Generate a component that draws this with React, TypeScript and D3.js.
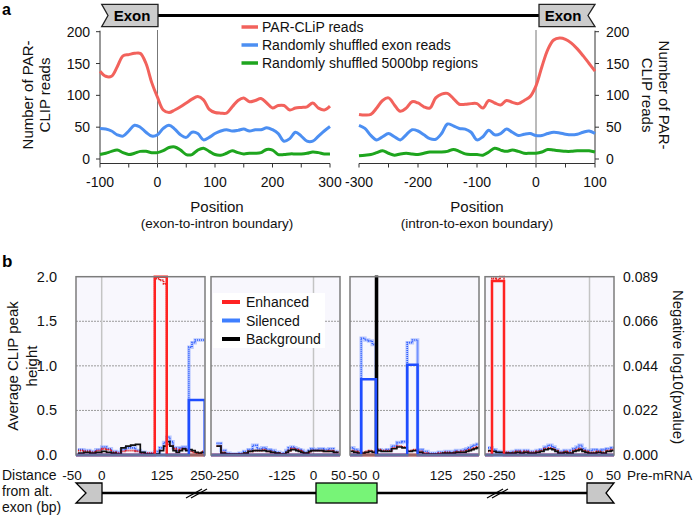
import React from "react";
import * as d3 from "d3";

const FONT = "'Liberation Sans', Arial, Helvetica, sans-serif";

// ---------- Panel a data ----------
const exonIntronPos = d3.range(-100, 301, 10);
const exonIntronPar = [138, 130, 130, 145, 162, 164, 166, 166, 150, 120, 97, 77, 73, 77, 82, 88, 94, 98, 93, 78, 73, 72, 72, 82, 92, 96, 90, 92, 95, 88, 80, 84, 84, 77, 80, 81, 82, 88, 80, 77, 83];
const exonIntronShuffledExon = [48, 47, 44, 38, 36, 44, 53, 50, 42, 36, 38, 48, 53, 47, 38, 34, 42, 40, 30, 34, 40, 44, 46, 44, 45, 47, 44, 46, 46, 49, 46, 40, 28, 32, 42, 36, 28, 28, 36, 44, 51];
const exonIntronShuffled5000 = [7, 9, 12, 14, 10, 7, 9, 12, 12, 10, 10, 13, 18, 19, 14, 7, 7, 14, 17, 12, 7, 6, 9, 13, 10, 8, 9, 9, 10, 15, 14, 7, 7, 8, 8, 8, 9, 11, 10, 8, 8];

const intronExonPos = d3.range(-300, 101, 10);
const intronExonPar = [70, 69, 70, 80, 92, 96, 85, 75, 80, 90, 88, 82, 80, 96, 102, 103, 95, 86, 86, 87, 87, 80, 92, 88, 85, 92, 89, 87, 92, 98, 115, 145, 172, 187, 190, 188, 182, 173, 162, 150, 138];
const intronExonShuffledExon = [53, 48, 37, 30, 35, 40, 35, 30, 38, 46, 44, 38, 32, 31, 40, 55, 52, 48, 47, 42, 30, 35, 45, 38, 40, 47, 42, 37, 39, 40, 37, 37, 40, 42, 41, 39, 38, 39, 42, 44, 40];
const intronExonShuffled5000 = [5, 6, 7, 10, 13, 9, 6, 8, 9, 8, 7, 9, 11, 11, 11, 12, 15, 12, 8, 7, 7, 6, 11, 17, 14, 12, 14, 12, 9, 9, 9, 11, 15, 14, 13, 12, 12, 13, 13, 13, 11];

const leftPosTicks = [-100, 0, 100, 200, 300];
const rightPosTicks = [-300, -200, -100, 0, 100];
const readTicks = [0, 50, 100, 150, 200];
const legendA = ["PAR-CLiP reads", "Randomly shuffled exon reads", "Randomly shuffled 5000bp regions"];
const colorsA = ["#f2625c", "#4c8ff2", "#1ea51e"];

// ---------- Panel b data ----------
const heightTicks = [0, 0.5, 1.0, 1.5, 2.0];
const pvalueTickLabels = ["0.000", "0.022", "0.044", "0.066", "0.089"];
const legendB = ["Enhanced", "Silenced", "Background"];
const colorsB = ["#ff2222", "#3f7fff", "#000000"];

// panel 1 (downstream of upstream exon)
const bins1 = d3.range(-40, 260, 10);
const enh1 = [0.05, 0.04, 0.03, 0.05, 0.07, 0.06, 0.03, 0.02, 0.04, 0.05, 0.05, 0.04, 0.02, 0.02, 0.02, 1.98, 1.96, 1.92, 0.12, 0.1, 0.07, 0.05, 0.06, 0.07, 0.06, 0.04, 0.03, 0.02, 0.02, 0.04];
const sil1 = [0.06, 0.05, 0.04, 0.06, 0.09, 0.07, 0.04, 0.03, 0.06, 0.08, 0.08, 0.05, 0.03, 0.02, 0.02, 0.04, 0.08, 0.14, 0.2, 0.15, 0.08, 0.05, 0.08, 0.09, 0.07, 1.21, 1.26, 1.29, 1.29, 1.29];
const bg1 = [0.02, 0.03, 0.02, 0.03, 0.04, 0.03, 0.02, 0.01, 0.08, 0.1, 0.11, 0.12, 0.03, 0.01, 0.01, 0.01, 0.05, 0.1, 0.15, 0.1, 0.05, 0.03, 0.05, 0.07, 0.05, 0.06, 0.05, 0.03, 0.02, 0.03];
const enhP1: [number, number, number][] = [[110, 140, 0.089]];
const silP1: [number, number, number][] = [[210, 260, 0.0275]];
const bgP1: [number, number, number][] = [];

// panel 2 (upstream of alt. exon)
const bins2 = d3.range(-270, 50, 10);
const enh2 = [0.1, 0.03, 0.01, 0, 0, 0.01, 0.02, 0.04, 0.05, 0.05, 0.06, 0.04, 0.03, 0.02, 0.01, 0.01, 0.03, 0.05, 0.07, 0.07, 0.06, 0.05, 0.04, 0.02, 0.02, 0.03, 0.05, 0.05, 0.05, 0.04, 0.05, 0.03];
const sil2 = [0.13, 0.05, 0.02, 0.01, 0.01, 0.02, 0.04, 0.06, 0.11, 0.07, 0.08, 0.06, 0.05, 0.03, 0.01, 0.02, 0.05, 0.08, 0.09, 0.08, 0.07, 0.06, 0.05, 0.03, 0.02, 0.05, 0.07, 0.06, 0.07, 0.06, 0.07, 0.04];
const bg2 = [0.1, 0.02, 0.01, 0.01, 0.01, 0.01, 0.02, 0.04, 0.05, 0.05, 0.05, 0.04, 0.03, 0.02, 0.01, 0.01, 0.03, 0.05, 0.06, 0.06, 0.05, 0.04, 0.03, 0.02, 0.02, 0.04, 0.05, 0.05, 0.05, 0.04, 0.04, 0.03];
const enhP2: [number, number, number][] = [];
const silP2: [number, number, number][] = [];
const bgP2: [number, number, number][] = [];

// panel 3 (downstream of alt. exon)
const bins3 = d3.range(-70, 270, 10);
const enh3 = [0.05, 0.04, 0.03, 0.03, 0.04, 0.05, 0.04, 0.06, 0.05, 0.05, 0.08, 0.1, 0.09, 0.05, 0.06, 0.04, 0.02, 0.01, 0.01, 0.02, 0.02, 0.03, 0.03, 0.02, 0.03, 0.04, 0.03, 0.04, 0.04, 0.05, 0.06, 0.07, 0.08, 0.09];
const sil3 = [0.08, 0.06, 0.05, 1.31, 1.29, 1.28, 1.24, 0.06, 0.05, 0.06, 0.1, 0.14, 0.15, 1.26, 1.29, 0.06, 0.04, 0.02, 0.02, 0.03, 0.03, 0.04, 0.04, 0.03, 0.04, 0.05, 0.04, 0.05, 0.06, 0.07, 0.08, 0.1, 0.11, 0.12];
const bg3 = [0.04, 0.03, 0.02, 0.02, 0.03, 0.04, 0.03, 0.05, 0.04, 0.04, 0.07, 0.09, 0.08, 0.04, 0.05, 0.03, 0.01, 0.01, 0.01, 0.01, 0.02, 0.02, 0.02, 0.02, 0.02, 0.03, 0.03, 0.03, 0.03, 0.04, 0.05, 0.06, 0.07, 0.08];
const enhP3: [number, number, number][] = [];
const silP3: [number, number, number][] = [[-40, 0, 0.0378], [60, 80, 0.045]];
const bgP3: [number, number, number][] = [[0, 2, 0.089]];

// panel 4 (upstream of downstream exon)
const bins4 = d3.range(-285, 55, 10);
const enh4 = [0.04, 1.98, 1.97, 2.0, 0.03, 0.02, 0.03, 0.04, 0.03, 0.04, 0.03, 0.03, 0.04, 0.05, 0.07, 0.08, 0.07, 0.05, 0.03, 0.03, 0.04, 0.03, 0.03, 0.05, 0.06, 0.07, 0.05, 0.04, 0.03, 0.03, 0.04, 0.03, 0.05, 0.06];
const sil4 = [0.08, 0.06, 0.04, 0.03, 0.03, 0.03, 0.04, 0.05, 0.04, 0.05, 0.04, 0.04, 0.05, 0.06, 0.09, 0.11, 0.09, 0.06, 0.04, 0.04, 0.05, 0.04, 0.05, 0.07, 0.09, 0.11, 0.07, 0.05, 0.05, 0.06, 0.05, 0.06, 0.07, 0.08];
const bg4 = [0.05, 0.04, 0.03, 0.03, 0.02, 0.02, 0.02, 0.03, 0.02, 0.03, 0.02, 0.02, 0.03, 0.04, 0.06, 0.07, 0.06, 0.04, 0.02, 0.02, 0.03, 0.02, 0.02, 0.04, 0.05, 0.06, 0.04, 0.03, 0.02, 0.02, 0.03, 0.02, 0.04, 0.05];
const enhP4: [number, number, number][] = [[-275, -245, 0.0868]];
const silP4: [number, number, number][] = [];
const bgP4: [number, number, number][] = [];

const ticks13 = [-50, 0, 125, 250];
const ticks24 = [-250, -125, 0, 50];

type Seg = [number, number, number];
interface PanelDef {
  left: number;
  ticks: number[];
  tickPx: number[];
  bins: number[];
  enh: number[];
  sil: number[];
  bg: number[];
  enhP: Seg[];
  silP: Seg[];
  bgP: Seg[];
}

const panelsB: PanelDef[] = [
  { left: 76, ticks: ticks13, tickPx: [72, 101.7, 162, 201.5], bins: bins1, enh: enh1, sil: sil1, bg: bg1, enhP: enhP1, silP: silP1, bgP: bgP1 },
  { left: 211, ticks: ticks24, tickPx: [225.5, 282, 313.5, 338.5], bins: bins2, enh: enh2, sil: sil2, bg: bg2, enhP: enhP2, silP: silP2, bgP: bgP2 },
  { left: 350, ticks: ticks13, tickPx: [357.5, 376, 441, 474], bins: bins3, enh: enh3, sil: sil3, bg: bg3, enhP: enhP3, silP: silP3, bgP: bgP3 },
  { left: 485, ticks: ticks24, tickPx: [502, 552, 589.5, 613.5], bins: bins4, enh: enh4, sil: sil4, bg: bg4, enhP: enhP4, silP: silP4, bgP: bgP4 },
];

export default function App() {
  // Panel a scales
  const xL = d3.scaleLinear().domain([-100, 300]).range([100, 330]);
  const xR = d3.scaleLinear().domain([-300, 100]).range([359, 595]);
  const yA = d3.scaleLinear().domain([0, 200]).range([159, 31.7]);
  const axisY = 163.5;

  const mkLine = (x: d3.ScaleLinear<number, number>) =>
    d3
      .line<[number, number]>()
      .x((d) => x(d[0]))
      .y((d) => yA(d[1]))
      .curve(d3.curveCatmullRom.alpha(0.5));

  const leftSeries = [exonIntronPar, exonIntronShuffledExon, exonIntronShuffled5000];
  const rightSeries = [intronExonPar, intronExonShuffledExon, intronExonShuffled5000];

  // Panel b scales
  const yB = d3.scaleLinear().domain([0, 2]).range([455, 276.7]);
  const yP = d3.scaleLinear().domain([0, 0.089]).range([455, 276.7]);
  const panelW = 129;

  const stepLine = (x: d3.ScaleLinear<number, number>, bins: number[], vals: number[]) => {
    const pts: [number, number][] = bins.map((b, i) => [b, vals[i]]);
    pts.push([bins[bins.length - 1] + 10, vals[vals.length - 1]]);
    return d3
      .line<[number, number]>()
      .x((d) => x(d[0]))
      .y((d) => yB(d[1]))
      .curve(d3.curveStepAfter)(pts) as string;
  };

  const pPath = (x: d3.ScaleLinear<number, number>, segs: Seg[], left: number, right: number) => {
    const p = d3.path();
    p.moveTo(left, yP(0));
    for (const [s, e, v] of segs) {
      p.lineTo(x(s), yP(0));
      p.lineTo(x(s), yP(v));
      p.lineTo(x(e), yP(v));
      p.lineTo(x(e), yP(0));
    }
    p.lineTo(right, yP(0));
    return p.toString();
  };

  const geneY = 493;

  return (
    <svg
      width={697}
      height={517}
      style={{ position: "absolute", left: 0, top: 0, display: "block", background: "#fff" }}
      fontFamily={FONT}
    >
      <rect width={697} height={517} fill="#fff" />
      {/* ================= Panel a ================= */}
      <text x={2} y={15} fontSize={16} fontWeight="bold">a</text>

      {/* exon diagram */}
      <line x1={158} x2={539} y1={15.5} y2={15.5} stroke="#000" strokeWidth={3} />
      <polygon points="101.7,4.3 158,4.3 158,26.7 101.7,26.7 108,15.5" fill="#cccccc" stroke="#222" strokeWidth={1.3} />
      <text x={132} y={21} fontSize={15} fontWeight="bold" textAnchor="middle">Exon</text>
      <polygon points="539,4.3 595,4.3 588,15.5 595,26.7 539,26.7" fill="#cccccc" stroke="#222" strokeWidth={1.3} />
      <text x={563} y={21} fontSize={15} fontWeight="bold" textAnchor="middle">Exon</text>

      {/* left axes */}
      <line x1={100} x2={100} y1={yA(200) - 1} y2={axisY} stroke="#333" strokeWidth={1} />
      {readTicks.map((t) => (
        <g key={"ly" + t}>
          <line x1={96} x2={100} y1={yA(t)} y2={yA(t)} stroke="#333" />
          <text x={90} y={yA(t) + 5} fontSize={14} textAnchor="end" fill="#111">{t}</text>
        </g>
      ))}
      <line x1={100} x2={330} y1={axisY} y2={axisY} stroke="#333" />
      {d3.range(-100, 301, 50).map((t) => (
        <line key={"lxt" + t} x1={xL(t)} x2={xL(t)} y1={axisY} y2={axisY + 4} stroke="#333" />
      ))}
      {leftPosTicks.map((t) => (
        <text key={"lx" + t} x={xL(t)} y={187} fontSize={14} textAnchor="middle" fill="#111">{t}</text>
      ))}
      <line x1={xL(0)} x2={xL(0)} y1={30} y2={axisY} stroke="#777" strokeWidth={1} />
      <text x={217} y={212} fontSize={15} textAnchor="middle" fill="#111">Position</text>
      <text x={217} y={228} fontSize={13.5} textAnchor="middle" fill="#111">(exon-to-intron boundary)</text>
      <text transform="translate(27,95) rotate(-90)" fontSize={15} textAnchor="middle" dominantBaseline="central" fill="#111">Number of PAR-</text>
      <text transform="translate(44,95) rotate(-90)" fontSize={15} textAnchor="middle" dominantBaseline="central" fill="#111">CLIP reads</text>

      {/* right axes */}
      <line x1={595} x2={595} y1={yA(200) - 1} y2={axisY} stroke="#333" />
      {readTicks.map((t) => (
        <g key={"ry" + t}>
          <line x1={595} x2={599} y1={yA(t)} y2={yA(t)} stroke="#333" />
          <text x={606} y={yA(t) + 5} fontSize={14} textAnchor="start" fill="#111">{t}</text>
        </g>
      ))}
      <line x1={359} x2={595} y1={axisY} y2={axisY} stroke="#333" />
      {d3.range(-300, 101, 50).map((t) => (
        <line key={"rxt" + t} x1={xR(t)} x2={xR(t)} y1={axisY} y2={axisY + 4} stroke="#333" />
      ))}
      {rightPosTicks.map((t) => (
        <text key={"rx" + t} x={xR(t)} y={187} fontSize={14} textAnchor="middle" fill="#111">{t}</text>
      ))}
      <line x1={xR(0)} x2={xR(0)} y1={30} y2={axisY} stroke="#777" strokeWidth={1} />
      <text x={477} y={212} fontSize={15} textAnchor="middle" fill="#111">Position</text>
      <text x={477} y={228} fontSize={13.5} textAnchor="middle" fill="#111">(intron-to-exon boundary)</text>
      <text transform="translate(664,95) rotate(90)" fontSize={15} textAnchor="middle" dominantBaseline="central" fill="#111">Number of PAR-</text>
      <text transform="translate(647,95) rotate(90)" fontSize={15} textAnchor="middle" dominantBaseline="central" fill="#111">CLIP reads</text>

      {/* curves */}
      {leftSeries.map((s, i) => (
        <path key={"ls" + i} d={mkLine(xL)(exonIntronPos.map((p, j) => [p, s[j]] as [number, number])) as string} fill="none" stroke={colorsA[i]} strokeWidth={3} />
      ))}
      {rightSeries.map((s, i) => (
        <path key={"rs" + i} d={mkLine(xR)(intronExonPos.map((p, j) => [p, s[j]] as [number, number])) as string} fill="none" stroke={colorsA[i]} strokeWidth={3} />
      ))}

      {/* legend a */}
      {legendA.map((l, i) => (
        <g key={"la" + i}>
          <line x1={241.5} x2={258} y1={27 + i * 18} y2={27 + i * 18} stroke={colorsA[i]} strokeWidth={3.5} />
          <text x={262} y={32 + i * 18} fontSize={14} fill="#111">{l}</text>
        </g>
      ))}

      {/* ================= Panel b ================= */}
      <text x={2} y={267} fontSize={17} fontWeight="bold">b</text>
      <defs>
        {panelsB.map((p, i) => (
          <clipPath key={"cp" + i} id={"clipb" + i}>
            <rect x={p.left} y={274} width={panelW} height={184} />
          </clipPath>
        ))}
      </defs>

      {panelsB.map((p, i) => {
        const x = d3.scaleLinear().domain(p.ticks).range(p.tickPx);
        const right = p.left + panelW;
        return (
          <g key={"pb" + i}>
            <rect x={p.left} y={276.7} width={panelW} height={455 - 276.7} fill="#f8f7fd" />
            {[0.5, 1.0, 1.5].map((g) => (
              <line key={"hg" + g} x1={p.left} x2={right} y1={yB(g)} y2={yB(g)} stroke="#9a9a9a" strokeWidth={1} strokeDasharray="2,1" />
            ))}
            <line x1={x(0)} x2={x(0)} y1={276.7} y2={455} stroke="#c4c4c4" strokeWidth={1.5} />
            <g clipPath={`url(#clipb${i})`}>
              <path d={stepLine(x, p.bins, p.sil)} fill="none" stroke="#8fa8ff" strokeWidth={3.5} opacity={0.6} />
              <path d={stepLine(x, p.bins, p.sil)} fill="none" stroke="#2f5cff" strokeWidth={1.6} strokeDasharray="1,1" />
              <path d={stepLine(x, p.bins, p.enh)} fill="none" stroke="#e31a1a" strokeWidth={1.8} strokeDasharray="1.2,0.8" />
              <path d={stepLine(x, p.bins, p.bg)} fill="none" stroke="#111" strokeWidth={1.7} />
              <path d={pPath(x, p.bgP, p.left, right)} fill="none" stroke="#000" strokeWidth={2.5} />
              <path d={pPath(x, p.enhP, p.left, right)} fill="none" stroke="#ff2222" strokeWidth={2.5} />
              <path d={pPath(x, p.silP, p.left, right)} fill="none" stroke="#1f4dff" strokeWidth={2.5} />
            </g>
            <rect x={p.left} y={276.7} width={panelW} height={455 - 276.7} fill="none" stroke="#7c7c7c" strokeWidth={1.5} />
            {p.ticks.map((t) => (
              <text key={"bt" + t} x={x(t)} y={480} fontSize={13.5} textAnchor="middle" fill="#111">{t}</text>
            ))}
          </g>
        );
      })}

      {/* legend b */}
      <rect x={213} y={293} width={112} height={55} fill="#fff" />
      {legendB.map((l, i) => (
        <g key={"lb" + i}>
          <line x1={222} x2={240} y1={302 + i * 18.5} y2={302 + i * 18.5} stroke={colorsB[i]} strokeWidth={4} />
          <text x={246} y={307 + i * 18.5} fontSize={14} fill="#111">{l}</text>
        </g>
      ))}

      {/* panel b axes labels */}
      {heightTicks.map((t) => (
        <text key={"hy" + t} x={57} y={yB(t) + 5} fontSize={14.5} textAnchor="end" fill="#111">{t.toFixed(1)}</text>
      ))}
      {heightTicks.map((t, i) => (
        <text key={"py" + t} x={623} y={yB(t) + 5} fontSize={14} textAnchor="start" fill="#111">{pvalueTickLabels[i]}</text>
      ))}
      <text transform="translate(12.5,366) rotate(-90)" fontSize={15} textAnchor="middle" dominantBaseline="central" fill="#111">Average CLIP peak</text>
      <text transform="translate(31,366) rotate(-90)" fontSize={15} textAnchor="middle" dominantBaseline="central" fill="#111">height</text>
      <text transform="translate(678,367) rotate(90)" fontSize={15} textAnchor="middle" dominantBaseline="central" fill="#111">Negative log10(pvalue)</text>

      <text x={2} y={480} fontSize={14} fill="#111">Distance</text>
      <text x={2} y={496} fontSize={14} fill="#111">from alt.</text>
      <text x={2} y={512} fontSize={14} fill="#111">exon (bp)</text>
      <text x={627} y={480} fontSize={13.5} fill="#111">Pre-mRNA</text>

      {/* gene diagram */}
      <line x1={102} x2={316} y1={geneY} y2={geneY} stroke="#000" strokeWidth={2.5} />
      <line x1={377} x2={587} y1={geneY} y2={geneY} stroke="#000" strokeWidth={2.5} />
      {[197, 498].map((bx) => (
        <g key={"br" + bx}>
          <line x1={bx - 11} x2={bx + 5} y1={geneY + 5} y2={geneY - 4} stroke="#000" strokeWidth={1.2} />
          <line x1={bx - 6} x2={bx + 10} y1={geneY + 5} y2={geneY - 4} stroke="#000" strokeWidth={1.2} />
        </g>
      ))}
      <polygon points="76,483 102,483 102,503 76,503 86,493" fill="#c8c8c8" stroke="#000" strokeWidth={1.3} />
      <rect x={316} y={483} width={61} height={20} fill="#77f477" stroke="#000" strokeWidth={1.3} />
      <polygon points="587,483 614,483 606,493 614,503 587,503" fill="#c8c8c8" stroke="#000" strokeWidth={1.3} />
    </svg>
  );
}
